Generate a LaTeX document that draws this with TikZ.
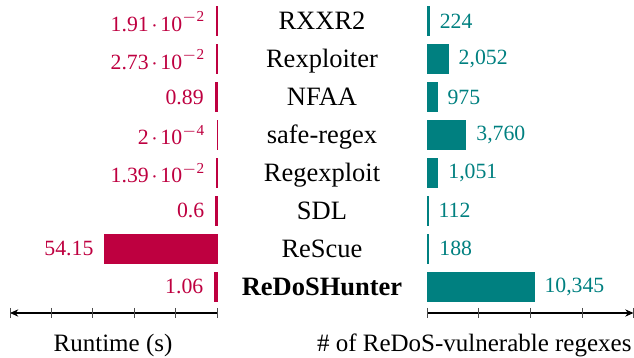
\documentclass[tikz,border=0pt]{standalone}
\usepackage{fontspec}
\setmainfont{Liberation Serif}
\usetikzlibrary{arrows.meta}
\definecolor{crim}{RGB}{190,0,64}
\definecolor{tealc}{RGB}{0,128,128}
\newcommand{\sci}[2]{#1\kern0.12em$\cdot$\kern0.12em10\textsuperscript{$-$#2}}
\tikzset{
  lbar/.style={fill=crim,draw=crim,line width=0.4pt},
  rbar/.style={fill=tealc,draw=tealc,line width=0.4pt},
  lval/.style={text=crim,font=\fontsize{8.7}{10}\selectfont,inner sep=0pt,anchor=east},
  rval/.style={text=tealc,font=\fontsize{8.7}{10}\selectfont,inner sep=0pt,anchor=west},
  tool/.style={font=\fontsize{10.6}{12}\selectfont,inner sep=0pt,anchor=base},
  axlbl/.style={font=\fontsize{10}{12}\selectfont,inner sep=0pt,anchor=base},
  axisline/.style={line width=0.45pt,-{Stealth[length=3.3pt,width=2.9pt]}},
  tickmark/.style={line width=0.4pt,black!70},
}
\begin{document}
\begin{tikzpicture}[x=0.4pt,y=-0.4pt]
\useasboundingbox (0,0) rectangle (634,358);
\def\ls{2.07}
\def\rs{0.01034}
\def\hh{14.5}
\foreach \i/\lv/\llab/\tname/\rv/\rlab in {
  0/0.0191/{\sci{1.91}{2}}/RXXR2/224/224,
  1/0.0273/{\sci{2.73}{2}}/Rexploiter/2052/{2,052},
  2/0.89/{0.89}/NFAA/975/975,
  3/0.0002/{\sci{2}{4}}/safe-regex/3760/{3,760},
  4/0.0139/{\sci{1.39}{2}}/Regexploit/1051/{1,051},
  5/0.6/{0.6}/SDL/112/112,
  6/54.15/{54.15}/ReScue/188/188,
  7/1.06/{1.06}/{\textbf{ReDoSHunter}}/10345/{10,345}}{
  \pgfmathsetmacro{\yc}{21.5+37.86*\i}
  \pgfmathsetmacro{\lx}{217-\ls*\lv}
  \pgfmathsetmacro{\rx}{427+\rs*\rv}
  \draw[lbar] (\lx,\yc-\hh) rectangle (217,\yc+\hh);
  \draw[rbar] (427,\yc-\hh) rectangle (\rx,\yc+\hh);
  \node[lval] (lv\i) at (\lx-11,\yc) {\llab};
  \node[rval] (rv\i) at (\rx+10,\yc) {\rlab};
  \node[tool] (tn\i) at (322,\yc+8.5) {\tname};
}
% left axis
\coordinate (la0) at (217,313);
\coordinate (la1) at (10,313);
\draw[axisline] (la0) -- (la1);
\foreach \k in {0,...,5}{
  \draw[tickmark] (217-41.4*\k,308) -- (217-41.4*\k,318);
}
% right axis
\coordinate (ra0) at (427,313);
\coordinate (ra1) at (633.5,313);
\draw[axisline] (ra0) -- (ra1);
\foreach \k in {0,...,4}{
  \draw[tickmark] (427+51.7*\k,308) -- (427+51.7*\k,318);
}
\node[axlbl] (xl) at (113,352) {Runtime (s)};
\node[axlbl,anchor=base east] (xr) at (632,352) {\# of ReDoS-vulnerable regexes};
\end{tikzpicture}
\end{document}
